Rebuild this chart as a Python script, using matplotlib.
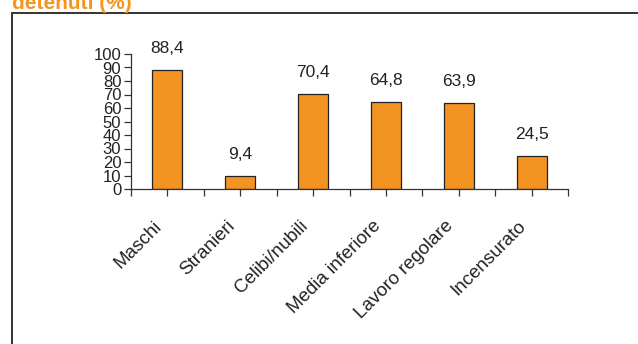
import matplotlib.pyplot as plt
import numpy as np
from matplotlib.patches import Rectangle
from matplotlib.transforms import ScaledTranslation

plt.rcParams["font.family"] = ["Liberation Sans", "DejaVu Sans"]

categories = ["Maschi", "Stranieri", "Celibi/nubili", "Media inferiore",
              "Lavoro regolare", "Incensurato"]
values = [88.4, 9.4, 70.4, 64.8, 63.9, 24.5]
yticks = list(range(0, 101, 10))

bar_color = "#F39322"
text_color = "#222222"

fig = plt.figure(figsize=(6.38, 3.44), dpi=100)
fig.patch.set_facecolor("white")

# outer frame, open to the right and bottom (cropped)
fig.patches.append(Rectangle((12 / 638, -0.1), 1.2, 1 - 13 / 344 + 0.1,
                             transform=fig.transFigure, fill=False,
                             edgecolor="#333333", linewidth=1.4))
fig.text(12 / 638, 1 - 9 / 344, "detenuti (%)", color="#F7941D",
         fontsize=15, fontweight="bold", va="baseline", ha="left")

ax = fig.add_axes([131 / 638, 1 - 189 / 344, 437 / 638, 135 / 344])
x = np.arange(len(categories))
ax.bar(x, values, width=0.41, color=bar_color, edgecolor="#222222",
       linewidth=0.9)

for xi, v in zip(x, values):
    ax.annotate(f"{v:.1f}".replace(".", ","), (xi, v), xytext=(0, 10),
                textcoords="offset points", ha="center", va="bottom",
                fontsize=12.5, color=text_color)

ax.set_xlim(-0.5, len(categories) - 0.5)
ax.set_ylim(0, 100)
ax.set_yticks(yticks)
ax.set_yticklabels([str(t) for t in yticks], fontsize=12, color=text_color)
ax.set_xticks(x)
ax.set_xticklabels(categories, rotation=45, ha="right", va="center",
                   rotation_mode="anchor", fontsize=13.5, color=text_color)
ax.set_xticks(np.arange(-0.5, len(categories)), minor=True)
ax.tick_params(axis="both", which="both", length=5, width=0.9,
               color="#333333", pad=2)
ax.tick_params(axis="x", which="major", pad=20)
shift = ScaledTranslation(-8 / 100, 0, fig.dpi_scale_trans)
for lbl in ax.get_xticklabels():
    lbl.set_transform(lbl.get_transform() + shift)

for side in ["top", "right"]:
    ax.spines[side].set_visible(False)
for side in ["left", "bottom"]:
    ax.spines[side].set_color("#333333")
    ax.spines[side].set_linewidth(0.9)

fig.savefig("out.png", dpi=100)
